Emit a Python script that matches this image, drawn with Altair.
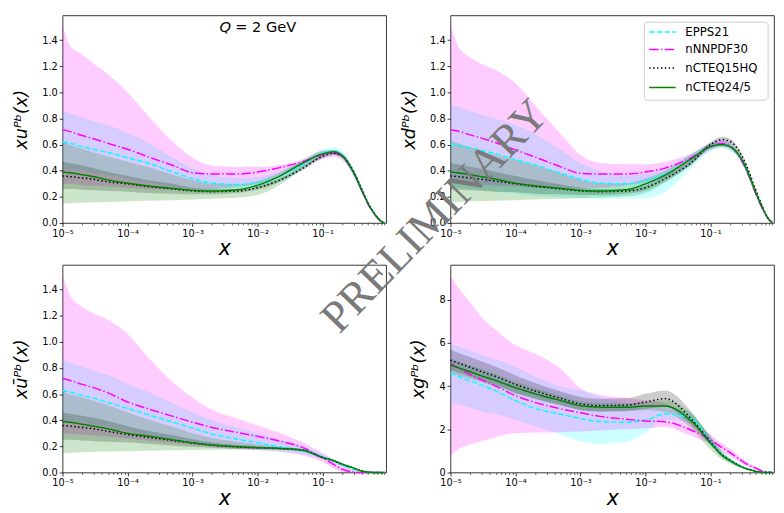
import altair as alt
import pandas as pd

# ---------------- data ----------------
X = [1e-5, 1.3e-5, 2e-5, 3e-5, 5e-5, 1e-4, 2e-4, 5e-4, 1e-3, 2e-3, 5e-3, 1e-2,
     2e-2, 5e-2, 0.1, 0.15, 0.2, 0.3, 0.4, 0.5, 0.6, 0.7, 0.8, 0.9]
SETS = ["EPPS21", "nNNPDF30", "nCTEQ15HQ", "nCTEQ24/5"]
COLORS = ["#00ffff", "#ff00ff", "#000000", "#008000"]
DASHES = [[5.5, 2.4], [9.6, 2.4, 1.5, 2.4], [1.5, 2.5], [1, 0]]

# ---- x u^Pb ----
XU_MID = {
    "EPPS21":    [0.62, 0.61, 0.585, 0.565, 0.54, 0.50, 0.46, 0.39, 0.34, 0.305, 0.295, 0.31, 0.35, 0.45, 0.535, 0.55, 0.52, 0.39, 0.255, 0.15, 0.085, 0.04, 0.012, 0.0],
    "nNNPDF30":  [0.715, 0.70, 0.67, 0.645, 0.61, 0.565, 0.51, 0.44, 0.385, 0.375, 0.375, 0.39, 0.42, 0.47, 0.525, 0.535, 0.51, 0.385, 0.25, 0.145, 0.08, 0.037, 0.01, 0.0],
    "nCTEQ15HQ": [0.36, 0.355, 0.345, 0.335, 0.315, 0.30, 0.28, 0.26, 0.245, 0.24, 0.245, 0.27, 0.32, 0.42, 0.51, 0.535, 0.515, 0.395, 0.26, 0.155, 0.088, 0.042, 0.013, 0.0],
    "nCTEQ24/5": [0.39, 0.385, 0.37, 0.355, 0.33, 0.305, 0.285, 0.265, 0.25, 0.245, 0.255, 0.29, 0.35, 0.46, 0.53, 0.545, 0.515, 0.385, 0.25, 0.15, 0.085, 0.04, 0.012, 0.0],
}
XU_LO = {
    "EPPS21":    [0.42, 0.41, 0.40, 0.385, 0.37, 0.34, 0.31, 0.28, 0.26, 0.25, 0.25, 0.27, 0.31, 0.41, 0.505, 0.52, 0.49, 0.365, 0.235, 0.135, 0.075, 0.035, 0.01, 0.0],
    "nNNPDF30":  [0.30, 0.30, 0.29, 0.285, 0.28, 0.27, 0.26, 0.255, 0.25, 0.26, 0.28, 0.30, 0.35, 0.43, 0.49, 0.505, 0.48, 0.36, 0.23, 0.13, 0.07, 0.03, 0.008, 0.0],
    "nCTEQ15HQ": [0.26, 0.26, 0.255, 0.25, 0.245, 0.24, 0.23, 0.225, 0.22, 0.22, 0.23, 0.255, 0.305, 0.405, 0.495, 0.52, 0.50, 0.38, 0.25, 0.148, 0.083, 0.039, 0.012, 0.0],
    "nCTEQ24/5": [0.15, 0.152, 0.155, 0.158, 0.16, 0.165, 0.17, 0.175, 0.18, 0.185, 0.195, 0.215, 0.28, 0.42, 0.51, 0.53, 0.50, 0.37, 0.24, 0.14, 0.08, 0.036, 0.01, 0.0],
}
XU_HI = {
    "EPPS21":    [0.86, 0.84, 0.81, 0.78, 0.75, 0.69, 0.62, 0.50, 0.42, 0.37, 0.345, 0.35, 0.39, 0.48, 0.565, 0.58, 0.55, 0.415, 0.275, 0.165, 0.095, 0.045, 0.014, 0.0],
    "nNNPDF30":  [1.52, 1.36, 1.29, 1.22, 1.14, 1.00, 0.83, 0.62, 0.50, 0.44, 0.43, 0.43, 0.44, 0.49, 0.555, 0.56, 0.535, 0.40, 0.265, 0.155, 0.085, 0.04, 0.012, 0.0],
    "nCTEQ15HQ": [0.47, 0.46, 0.44, 0.42, 0.39, 0.36, 0.33, 0.30, 0.27, 0.26, 0.26, 0.285, 0.335, 0.435, 0.525, 0.55, 0.53, 0.41, 0.27, 0.162, 0.093, 0.045, 0.014, 0.0],
    "nCTEQ24/5": [0.62, 0.60, 0.57, 0.54, 0.51, 0.47, 0.43, 0.37, 0.33, 0.30, 0.295, 0.32, 0.375, 0.48, 0.55, 0.56, 0.53, 0.40, 0.26, 0.16, 0.09, 0.044, 0.014, 0.0],
}

# ---- x d^Pb ----
XD_MID = {
    "EPPS21":    [0.605, 0.595, 0.575, 0.555, 0.53, 0.485, 0.445, 0.38, 0.335, 0.305, 0.30, 0.325, 0.375, 0.49, 0.585, 0.605, 0.585, 0.485, 0.35, 0.225, 0.135, 0.068, 0.024, 0.003],
    "nNNPDF30":  [0.715, 0.705, 0.675, 0.65, 0.615, 0.56, 0.505, 0.43, 0.38, 0.375, 0.375, 0.39, 0.42, 0.50, 0.585, 0.61, 0.59, 0.48, 0.345, 0.22, 0.13, 0.065, 0.022, 0.003],
    "nCTEQ15HQ": [0.36, 0.355, 0.345, 0.335, 0.32, 0.30, 0.28, 0.26, 0.245, 0.24, 0.245, 0.27, 0.34, 0.46, 0.60, 0.64, 0.625, 0.52, 0.38, 0.25, 0.15, 0.075, 0.026, 0.003],
    "nCTEQ24/5": [0.39, 0.385, 0.37, 0.355, 0.335, 0.305, 0.285, 0.265, 0.25, 0.245, 0.255, 0.30, 0.367, 0.49, 0.585, 0.60, 0.585, 0.49, 0.355, 0.23, 0.14, 0.07, 0.025, 0.003],
}
XD_LO = {
    "EPPS21":    [0.28, 0.275, 0.265, 0.255, 0.24, 0.225, 0.21, 0.195, 0.19, 0.185, 0.185, 0.19, 0.24, 0.42, 0.55, 0.575, 0.555, 0.46, 0.33, 0.21, 0.125, 0.062, 0.021, 0.002],
    "nNNPDF30":  [0.30, 0.30, 0.295, 0.29, 0.285, 0.28, 0.27, 0.265, 0.265, 0.27, 0.29, 0.31, 0.35, 0.46, 0.56, 0.585, 0.565, 0.46, 0.33, 0.205, 0.12, 0.06, 0.02, 0.002],
    "nCTEQ15HQ": [0.255, 0.255, 0.25, 0.245, 0.24, 0.235, 0.225, 0.22, 0.215, 0.215, 0.225, 0.25, 0.32, 0.44, 0.58, 0.62, 0.605, 0.505, 0.365, 0.24, 0.143, 0.07, 0.024, 0.002],
    "nCTEQ24/5": [0.16, 0.162, 0.165, 0.168, 0.17, 0.175, 0.18, 0.185, 0.19, 0.195, 0.205, 0.23, 0.31, 0.45, 0.565, 0.58, 0.565, 0.47, 0.34, 0.22, 0.132, 0.065, 0.022, 0.002],
}
XD_HI = {
    "EPPS21":    [0.91, 0.89, 0.86, 0.83, 0.80, 0.75, 0.68, 0.56, 0.46, 0.40, 0.37, 0.38, 0.42, 0.53, 0.615, 0.635, 0.615, 0.51, 0.37, 0.24, 0.145, 0.074, 0.027, 0.004],
    "nNNPDF30":  [1.52, 1.36, 1.27, 1.22, 1.17, 1.07, 0.90, 0.68, 0.52, 0.46, 0.45, 0.45, 0.47, 0.53, 0.61, 0.635, 0.615, 0.50, 0.36, 0.235, 0.14, 0.07, 0.025, 0.004],
    "nCTEQ15HQ": [0.46, 0.45, 0.43, 0.415, 0.39, 0.36, 0.33, 0.295, 0.27, 0.26, 0.26, 0.29, 0.36, 0.48, 0.62, 0.66, 0.645, 0.535, 0.395, 0.26, 0.157, 0.08, 0.028, 0.004],
    "nCTEQ24/5": [0.63, 0.61, 0.58, 0.55, 0.52, 0.48, 0.44, 0.38, 0.33, 0.305, 0.30, 0.34, 0.40, 0.52, 0.605, 0.62, 0.605, 0.51, 0.37, 0.24, 0.148, 0.075, 0.027, 0.004],
}

# ---- x ubar^Pb ----
XUB_MID = {
    "EPPS21":    [0.626, 0.615, 0.59, 0.57, 0.535, 0.49, 0.445, 0.385, 0.34, 0.295, 0.255, 0.227, 0.20, 0.165, 0.12, 0.085, 0.055, 0.025, 0.008, 0.002, 0.0, 0.0, 0.0, 0.0],
    "nNNPDF30":  [0.72, 0.705, 0.675, 0.65, 0.61, 0.54, 0.49, 0.43, 0.385, 0.345, 0.305, 0.277, 0.245, 0.19, 0.11, 0.06, 0.025, 0.004, 0.0, 0.0, 0.0, 0.0, 0.0, 0.0],
    "nCTEQ15HQ": [0.36, 0.355, 0.345, 0.335, 0.315, 0.29, 0.27, 0.245, 0.225, 0.21, 0.195, 0.19, 0.185, 0.17, 0.115, 0.088, 0.063, 0.033, 0.012, 0.004, 0.001, 0.0, 0.0, 0.0],
    "nCTEQ24/5": [0.39, 0.385, 0.37, 0.355, 0.335, 0.30, 0.28, 0.25, 0.227, 0.21, 0.198, 0.19, 0.185, 0.17, 0.115, 0.09, 0.065, 0.035, 0.012, 0.004, 0.001, 0.0, 0.0, 0.0],
}
XUB_LO = {
    "EPPS21":    [0.40, 0.395, 0.385, 0.37, 0.35, 0.32, 0.29, 0.255, 0.23, 0.21, 0.19, 0.175, 0.165, 0.14, 0.105, 0.072, 0.047, 0.02, 0.006, 0.001, 0.0, 0.0, 0.0, 0.0],
    "nNNPDF30":  [0.30, 0.295, 0.29, 0.285, 0.275, 0.26, 0.245, 0.225, 0.21, 0.195, 0.18, 0.17, 0.16, 0.13, 0.08, 0.03, 0.005, 0.0, 0.0, 0.0, 0.0, 0.0, 0.0, 0.0],
    "nCTEQ15HQ": [0.25, 0.25, 0.245, 0.24, 0.235, 0.23, 0.22, 0.205, 0.195, 0.19, 0.18, 0.178, 0.175, 0.16, 0.108, 0.082, 0.058, 0.03, 0.011, 0.003, 0.001, 0.0, 0.0, 0.0],
    "nCTEQ24/5": [0.15, 0.152, 0.155, 0.158, 0.16, 0.163, 0.166, 0.17, 0.173, 0.175, 0.177, 0.178, 0.176, 0.16, 0.105, 0.082, 0.058, 0.03, 0.01, 0.003, 0.001, 0.0, 0.0, 0.0],
}
XUB_HI = {
    "EPPS21":    [0.86, 0.84, 0.81, 0.78, 0.745, 0.68, 0.62, 0.53, 0.46, 0.40, 0.34, 0.30, 0.26, 0.205, 0.14, 0.10, 0.065, 0.03, 0.01, 0.003, 0.0, 0.0, 0.0, 0.0],
    "nNNPDF30":  [1.51, 1.36, 1.27, 1.22, 1.17, 1.06, 0.89, 0.69, 0.575, 0.48, 0.41, 0.36, 0.31, 0.23, 0.15, 0.10, 0.06, 0.02, 0.005, 0.0, 0.0, 0.0, 0.0, 0.0],
    "nCTEQ15HQ": [0.46, 0.45, 0.435, 0.42, 0.395, 0.355, 0.32, 0.285, 0.255, 0.23, 0.21, 0.202, 0.195, 0.18, 0.122, 0.094, 0.068, 0.036, 0.013, 0.005, 0.001, 0.0, 0.0, 0.0],
    "nCTEQ24/5": [0.62, 0.60, 0.575, 0.55, 0.515, 0.46, 0.41, 0.35, 0.30, 0.265, 0.235, 0.215, 0.20, 0.18, 0.125, 0.098, 0.072, 0.04, 0.014, 0.005, 0.001, 0.0, 0.0, 0.0],
}

# ---- x g^Pb ----
XG_MID = {
    "EPPS21":    [4.61, 4.45, 4.25, 4.05, 3.78, 3.33, 2.97, 2.70, 2.50, 2.36, 2.33, 2.42, 2.72, 2.50, 1.45, 0.85, 0.58, 0.28, 0.14, 0.06, 0.018, 0.004, 0.0, 0.0],
    "nNNPDF30":  [5.06, 4.85, 4.55, 4.30, 4.00, 3.56, 3.25, 2.95, 2.77, 2.60, 2.47, 2.39, 2.35, 1.97, 1.52, 1.15, 0.92, 0.55, 0.32, 0.20, 0.09, 0.04, 0.01, 0.0],
    "nCTEQ15HQ": [5.21, 5.08, 4.88, 4.68, 4.45, 4.08, 3.78, 3.43, 3.18, 3.10, 3.12, 3.26, 3.42, 2.50, 1.42, 0.82, 0.57, 0.27, 0.14, 0.06, 0.017, 0.004, 0.0, 0.0],
    "nCTEQ24/5": [4.98, 4.86, 4.67, 4.48, 4.26, 3.93, 3.65, 3.33, 3.10, 3.03, 3.02, 3.08, 3.08, 2.40, 1.37, 0.80, 0.54, 0.26, 0.13, 0.055, 0.015, 0.003, 0.0, 0.0],
}
XG_LO = {
    "EPPS21":    [3.25, 3.15, 3.0, 2.85, 2.7, 2.45, 2.15, 1.75, 1.45, 1.33, 1.42, 1.85, 2.45, 2.3, 1.3, 0.75, 0.5, 0.24, 0.12, 0.05, 0.015, 0.003, 0.0, 0.0],
    "nNNPDF30":  [0.77, 1.05, 1.3, 1.45, 1.65, 1.82, 1.85, 1.87, 1.9, 1.95, 2.0, 2.05, 2.1, 1.7, 1.3, 0.95, 0.75, 0.42, 0.22, 0.13, 0.05, 0.02, 0.005, 0.0],
    "nCTEQ15HQ": [4.75, 4.63, 4.45, 4.25, 4.05, 3.7, 3.43, 3.12, 2.9, 2.82, 2.85, 2.95, 3.05, 2.2, 1.25, 0.72, 0.5, 0.23, 0.12, 0.05, 0.014, 0.003, 0.0, 0.0],
    "nCTEQ24/5": [4.6, 4.5, 4.35, 4.18, 3.98, 3.65, 3.4, 3.1, 2.9, 2.84, 2.84, 2.88, 2.8, 2.05, 1.05, 0.6, 0.4, 0.2, 0.1, 0.04, 0.01, 0.002, 0.0, 0.0],
}
XG_HI = {
    "EPPS21":    [5.96, 5.85, 5.65, 5.45, 5.25, 4.9, 4.45, 4.0, 3.8, 3.5, 3.25, 3.1, 3.05, 2.75, 1.6, 0.95, 0.65, 0.32, 0.16, 0.07, 0.02, 0.005, 0.0, 0.0],
    "nNNPDF30":  [9.13, 8.6, 7.9, 7.2, 6.6, 5.9, 5.5, 4.8, 3.9, 3.6, 3.45, 3.35, 3.2, 2.4, 1.75, 1.35, 1.1, 0.68, 0.42, 0.27, 0.13, 0.06, 0.02, 0.0],
    "nCTEQ15HQ": [5.7, 5.55, 5.35, 5.15, 4.9, 4.5, 4.15, 3.75, 3.5, 3.42, 3.45, 3.65, 3.8, 2.85, 1.6, 0.9, 0.63, 0.3, 0.16, 0.07, 0.02, 0.005, 0.0, 0.0],
    "nCTEQ24/5": [5.3, 5.16, 4.97, 4.78, 4.55, 4.2, 3.9, 3.55, 3.3, 3.22, 3.2, 3.28, 3.35, 2.75, 1.7, 1.0, 0.68, 0.32, 0.16, 0.07, 0.02, 0.005, 0.0, 0.0],
}

X_DOMAIN = [1e-5, 0.95]
X_MAJOR = [1e-5, 1e-4, 1e-3, 1e-2, 1e-1]
X_MINOR = [k * 10.0 ** e for e in range(-5, 0) for k in range(2, 10)]
X_LABELS = ["10⁻⁵", "10⁻⁴", "10⁻³", "10⁻²", "10⁻¹"]
Y_TICKS_Q = [0.0, 0.2, 0.4, 0.6, 0.8, 1.0, 1.2, 1.4]
Y_TICKS_G = [0, 2, 4, 6, 8]
Y_DOMAIN_Q = [0, 1.59]
Y_DOMAIN_G = [0, 9.62]
TITLES = ["xuᴾᵇ(x)", "xdᴾᵇ(x)", "xūᴾᵇ(x)", "xgᴾᵇ(x)"]
ANNOT = {"x": [2.6e-3], "y": [1.5]}
WATERMARK = ["PRELIMINARY"]

# legend placement inside the x d panel (data coordinates of that panel)
LEG_BOX = {"x": [9.6e-3], "x2": [0.77], "y": [1.538], "y2": [0.941]}
LEG_ROW_Y = [1.463, 1.329, 1.187, 1.038]
LEG_LINE_X = [0.0114, 0.0291]
LEG_TEXT_X = 0.041

W, H = 332, 213


def frame(mid, lo, hi):
    rows = []
    for s in SETS:
        for i, xv in enumerate(X):
            rows.append({"set": s, "x": xv, "mid": mid[s][i], "lo": lo[s][i], "hi": hi[s][i]})
    return pd.DataFrame(rows)


major_test = "abs(log(datum.value)/LN10 - round(log(datum.value)/LN10)) < 0.001"
label_expr = " : ".join(
    f"abs(log(datum.value)/LN10 - ({e})) < 0.001 ? '{lab}'"
    for e, lab in zip([-5, -4, -3, -2, -1], X_LABELS)
) + " : ''"

X_AXIS = alt.Axis(
    values=sorted(X_MAJOR + X_MINOR), labelExpr=label_expr, labelOverlap=False,
    labelFlush=False, grid=False, domain=False,
    tickSize={"condition": {"test": major_test, "value": 3.5}, "value": 2},
    tickWidth={"condition": {"test": major_test, "value": 0.8}, "value": 0.6},
    tickColor="black", labelColor="black", labelFontSize=10, labelPadding=2,
    title="x", titleFontSize=21, titleFontStyle="italic", titleFontWeight="normal",
    titleColor="black", titlePadding=0,
)

COLOR_SCALE = alt.Scale(domain=SETS, range=COLORS)
DASH_SCALE = alt.Scale(domain=SETS, range=DASHES)


def panel(df, title, ydom, yticks, yfmt, extra=None):
    y_axis = alt.Axis(
        values=yticks, format=yfmt, grid=False, domain=False, tickSize=3.5,
        tickWidth=0.8, tickColor="black", labelColor="black", labelFontSize=10,
        labelPadding=2, title=title, titleFontSize=18, titleFontStyle="italic",
        titleFontWeight="normal", titleColor="black", titlePadding=12,
    )
    xs = alt.Scale(type="log", domain=X_DOMAIN)
    ys = alt.Scale(domain=ydom, nice=False, zero=False)
    x_enc = alt.X("x:Q", scale=xs, axis=X_AXIS)
    band = alt.Chart(df).mark_area(opacity=0.2, interpolate="monotone").encode(
        x=x_enc,
        y=alt.Y("lo:Q", scale=ys, axis=y_axis),
        y2="hi:Q",
        fill=alt.Fill("set:N", scale=COLOR_SCALE, legend=None),
    )
    line = alt.Chart(df).mark_line(strokeWidth=1.5, interpolate="monotone").encode(
        x=x_enc,
        y=alt.Y("mid:Q", scale=ys, axis=y_axis),
        color=alt.Color("set:N", scale=COLOR_SCALE, legend=None),
        strokeDash=alt.StrokeDash("set:N", scale=DASH_SCALE, legend=None),
    )
    layers = [band, line]
    if extra is not None:
        layers += extra(xs, ys, y_axis)
    return alt.layer(*layers).properties(width=W, height=H)


def q_label(xs, ys, y_axis):
    adf = pd.DataFrame({"x": ANNOT["x"], "y": ANNOT["y"], "t": ["Q"], "u": ["= 2 GeV"]})
    base = alt.Chart(adf).encode(x=alt.X("x:Q", scale=xs, axis=X_AXIS),
                                 y=alt.Y("y:Q", scale=ys, axis=y_axis))
    t1 = base.mark_text(align="left", baseline="middle", fontSize=15, fontStyle="italic",
                        color="black").encode(text="t:N")
    t2 = base.mark_text(align="left", baseline="middle", fontSize=15, dx=16,
                        color="black").encode(text="u:N")
    return [t1, t2]


def legend_layers(xs, ys, y_axis):
    box = alt.Chart(pd.DataFrame(LEG_BOX)).mark_rect(
        fill="white", stroke="#cccccc", strokeWidth=1, cornerRadius=3
    ).encode(x=alt.X("x:Q", scale=xs, axis=X_AXIS), x2="x2:Q",
             y=alt.Y("y:Q", scale=ys, axis=y_axis), y2="y2:Q")
    ldf = pd.DataFrame({
        "set": SETS, "y": LEG_ROW_Y,
        "x": [LEG_LINE_X[0]] * 4, "x2": [LEG_LINE_X[1]] * 4,
        "tx": [LEG_TEXT_X] * 4,
    })
    lbase = alt.Chart(ldf).encode(y=alt.Y("y:Q", scale=ys, axis=y_axis))
    rules = lbase.mark_rule(strokeWidth=1.5).encode(
        x=alt.X("x:Q", scale=xs, axis=X_AXIS), x2="x2:Q",
        color=alt.Color("set:N", scale=COLOR_SCALE, legend=None),
        strokeDash=alt.StrokeDash("set:N", scale=DASH_SCALE, legend=None),
    )
    texts = lbase.mark_text(align="left", baseline="middle", fontSize=12, color="black").encode(
        x=alt.X("tx:Q", scale=xs, axis=X_AXIS), text="set:N"
    )
    return [box, rules, texts]


def watermark(xs, ys, y_axis):
    wdf = pd.DataFrame({"w": WATERMARK})
    wm = alt.Chart(wdf).mark_text(
        font="Liberation Serif", fontSize=46, color="#7a7a7a", angle=314,
        align="center", baseline="middle",
    ).encode(text="w:N", x=alt.value(-16), y=alt.value(-50))
    return [wm]


tl = panel(frame(XU_MID, XU_LO, XU_HI), TITLES[0], Y_DOMAIN_Q, Y_TICKS_Q, ".1f", extra=q_label)
tr = panel(frame(XD_MID, XD_LO, XD_HI), TITLES[1], Y_DOMAIN_Q, Y_TICKS_Q, ".1f", extra=legend_layers)
bl = panel(frame(XUB_MID, XUB_LO, XUB_HI), TITLES[2], Y_DOMAIN_Q, Y_TICKS_Q, ".1f")
br = panel(frame(XG_MID, XG_LO, XG_HI), TITLES[3], Y_DOMAIN_G, Y_TICKS_G, "d", extra=watermark)

chart = alt.concat(
    tl, tr, bl, br, columns=2, spacing={"row": 43, "column": 66}, bounds="flush"
).resolve_scale(
    x="independent", y="independent", color="independent",
    strokeDash="independent", fill="independent",
).properties(
    padding={"left": 4, "top": 0, "right": 0, "bottom": 0}
).configure(font="DejaVu Sans").configure_view(stroke="black", strokeWidth=0.8)

chart.save("out.html", embed_options={"renderer": "svg", "actions": False})
